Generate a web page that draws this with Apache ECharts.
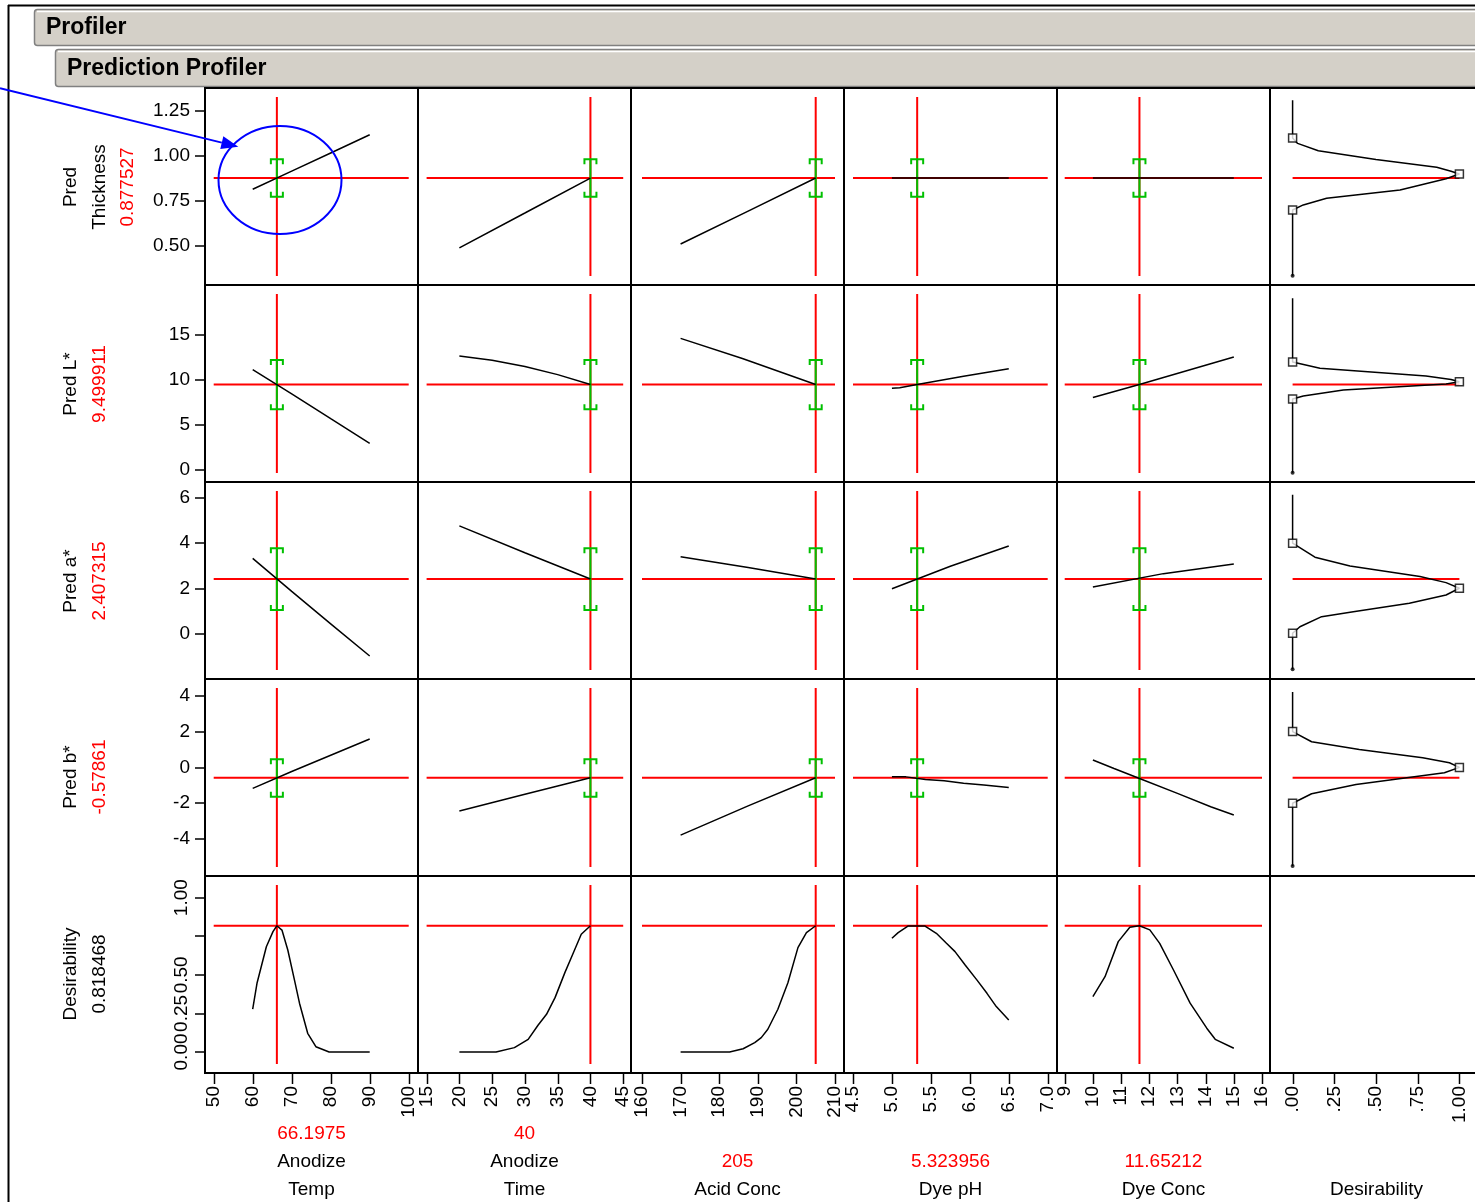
<!DOCTYPE html>
<html>
<head>
<meta charset="utf-8">
<title>Prediction Profiler</title>
<script src="https://cdn.jsdelivr.net/npm/echarts@6/dist/echarts.min.js"></script>
<style>
  html, body { margin: 0; padding: 0; background: #fff; }
  #profiler { width: 1475px; height: 1202px; }
</style>
</head>
<body>
<div id="profiler"></div>
<script>
// factors (columns)
const factorNames = [['Anodize', 'Temp'], ['Anodize', 'Time'], ['Acid Conc'], ['Dye pH'], ['Dye Conc'], ['Desirability']];
const factorValues = [66.1975, 40, 205, 5.323956, 11.65212];
const factorValueLabels = ['66.1975', '40', '205', '5.323956', '11.65212'];
const factorTicks = [
  [50, 60, 70, 80, 90, 100],
  [15, 20, 25, 30, 35, 40, 45],
  [160, 170, 180, 190, 200, 210],
  [4.5, 5, 5.5, 6, 6.5, 7],
  [9, 10, 11, 12, 13, 14, 15, 16],
  [0, 0.25, 0.5, 0.75, 1]
];

// responses (rows)
const responseNames = [['Pred', 'Thickness'], ['Pred L*'], ['Pred a*'], ['Pred b*'], ['Desirability']];
const responseValues = [0.877527, 9.499911, 2.407315, -0.57861, 0.818468];
const responseValueLabels = ['0.877527', '9.499911', '2.407315', '-0.57861', '0.818468'];
const responseTicks = [[0.5, 0.75, 1, 1.25], [0, 5, 10, 15], [0, 2, 4, 6], [-4, -2, 0, 2, 4], [0, 0.25, 0.5, 0.75, 1]];
const desirTickLabels = [0, 0.25, 0.5, 1];

// confidence intervals at the current setting
const ciLow = [0.774, 6.74, 1.04, -1.64];
const ciHigh = [0.982, 12.22, 3.78, 0.45];

// profile traces, one list per factor column
const profThickness = [
  [[60, 0.815], [70, 0.916], [80, 1.017], [90, 1.118]],
  [[20, 0.489], [30, 0.683], [40, 0.8775]],
  [[170, 0.511], [187.5, 0.694], [205, 0.8775]],
  [[5, 0.8775], [6.5, 0.8775]],
  [[10, 0.8775], [15, 0.8775]]
];
const profL = [
  [[60, 11.15], [70, 8.45], [80, 5.7], [90, 2.96]],
  [[20, 12.67], [25, 12.2], [30, 11.5], [35, 10.6], [40, 9.5]],
  [[170, 14.63], [186, 12.4], [205, 9.5]],
  [[5, 9.08], [5.1, 9.15], [5.324, 9.5], [5.92, 10.41], [6.5, 11.26]],
  [[10, 8.05], [11.65, 9.5], [15, 12.56]]
];
const profA = [
  [[60, 3.33], [70, 1.86], [80, 0.42], [90, -1.01]],
  [[20, 4.77], [30, 3.58], [40, 2.41]],
  [[170, 3.4], [187.5, 2.92], [205, 2.41]],
  [[5, 1.98], [5.75, 2.98], [6.5, 3.88]],
  [[10, 2.06], [12.5, 2.65], [15, 3.08]]
];
const profB = [
  [[60, -1.17], [70, -0.23], [80, 0.68], [90, 1.58]],
  [[20, -2.44], [30, -1.5], [40, -0.58]],
  [[170, -3.78], [187.5, -2.15], [205, -0.58]],
  [[5, -0.53], [5.18, -0.53], [5.43, -0.67], [5.67, -0.75], [5.92, -0.89], [6.18, -0.99], [6.5, -1.12]],
  [[10, 0.41], [10.75, -0.06], [11.7, -0.65], [13, -1.45], [14.18, -2.2], [15, -2.66]]
];
const profDesir = [
  [[60, 0.277], [61.1, 0.445], [63.5, 0.682], [65.2, 0.78], [66.2, 0.818], [67.5, 0.79], [69, 0.661],
   [70.7, 0.467], [72, 0.316], [74.1, 0.121], [76.2, 0.034], [79.6, 0], [90, 0]],
  [[20, 0], [25.6, 0], [28.4, 0.028], [30.5, 0.082], [32, 0.173], [33.3, 0.244], [34.6, 0.352],
   [36.1, 0.514], [37.3, 0.633], [38.6, 0.763], [40, 0.818]],
  [[170, 0], [182.7, 0], [186.2, 0.021], [189.2, 0.06], [190.9, 0.093], [192.6, 0.147], [195.2, 0.277],
   [197.8, 0.449], [200.4, 0.676], [202.6, 0.773], [205, 0.818]],
  [[5, 0.737], [5.08, 0.773], [5.21, 0.817], [5.42, 0.817], [5.57, 0.769], [5.7, 0.704], [5.81, 0.65],
   [5.94, 0.564], [6.09, 0.467], [6.22, 0.38], [6.34, 0.294], [6.5, 0.207]],
  [[10, 0.358], [10.43, 0.488], [10.9, 0.715], [11.31, 0.808], [11.65, 0.818], [12.02, 0.791], [12.37, 0.704],
   [12.86, 0.531], [13.45, 0.316], [14.04, 0.154], [14.34, 0.082], [15, 0.024]]
];
const profiles = [profThickness, profL, profA, profB, profDesir];

// desirability functions (desirability, response)
const desirThickness = [[0, 1.31], [0, 1.1], [0.03, 1.07], [0.154, 1.029], [0.5, 0.98], [0.864, 0.937], [0.95, 0.915], [1, 0.9],
  [0.92, 0.874], [0.644, 0.811], [0.204, 0.765], [0.064, 0.728], [0, 0.7], [0, 0.335]];
const desirL = [[0, 19.1], [0, 12], [0.164, 11.3], [0.8, 10.44], [0.95, 10.05], [1, 9.8],
  [0.92, 9.56], [0.304, 8.89], [0.064, 8.22], [0, 7.9], [0, -0.3]];
const desirA = [[0, 6.15], [0, 4], [0.134, 3.38], [0.344, 2.99], [0.764, 2.52], [0.92, 2.25], [1, 2],
  [0.92, 1.7], [0.7, 1.33], [0.364, 0.96], [0.174, 0.74], [0.044, 0.29], [0, 0], [0, -1.6]];
const desirB = [[0, 4.2], [0, 2], [0.114, 1.43], [0.4, 1.0], [0.78, 0.54], [0.94, 0.26], [1, 0],
  [0.91, -0.3], [0.38, -0.95], [0.114, -1.47], [0, -2], [0, -5.5]];
const desirCurves = [desirThickness, desirL, desirA, desirB];
const desirCtrl = [[[0, 1.1], [1, 0.9], [0, 0.7]], [[0, 12], [1, 9.8], [0, 7.9]], [[0, 4], [1, 2], [0, 0]], [[0, 2], [1, 0], [0, -2]]];
const desirEnd = [[[0, 0.335]], [[0, -0.3]], [[0, -1.6]], [[0, -5.5]]];

// layout
const FONT = '"Liberation Sans", Arial, sans-serif';
const colLeft = [205, 418, 631, 844, 1057, 1270];
const rowTop = [88, 285, 482, 679, 876];
const plotX = [[213.7, 408.7], [426.6, 623.2], [642, 835], [853, 1047.7], [1064.7, 1262], [1292.6, 1459.4]];
const yRange = [[0.333, 1.328], [-0.33, 19.56], [-1.63, 6.32], [-5.56, 4.43], [-0.078, 1.082]];
const RED = '#ff0000', GREEN = '#00c000';
const AXIS_Y = 1073;

const fmtX = (c) => (v) => {
  if (c === 3) return v.toFixed(1);
  if (c === 5) return v === 1 ? '1.00' : v.toFixed(2).replace(/^0/, '');
  return String(v);
};
const fmtY = (r) => (v) => (r === 0 || r === 4) ? v.toFixed(2) : String(v);

function renderCI(params, api) {
  const x = api.value(0);
  const top = api.coord([x, api.value(2)]);
  const bot = api.coord([x, api.value(1)]);
  const w = 6, h = 5;
  const st = { stroke: GREEN, lineWidth: 2, fill: null };
  return {
    type: 'group',
    children: [
      { type: 'line', shape: { x1: top[0], y1: top[1], x2: bot[0], y2: bot[1] }, style: st },
      { type: 'polyline', shape: { points: [[top[0] - w, top[1] + h], [top[0] - w, top[1]], [top[0] + w, top[1]], [top[0] + w, top[1] + h]] }, style: st },
      { type: 'polyline', shape: { points: [[bot[0] - w, bot[1] - h], [bot[0] - w, bot[1]], [bot[0] + w, bot[1]], [bot[0] + w, bot[1] - h]] }, style: st }
    ]
  };
}

const lineSeries = (gi, data, color, width, z) => ({
  type: 'line', xAxisIndex: gi, yAxisIndex: gi, data: data,
  symbol: 'none', showSymbol: false, silent: true, clip: false, z: z,
  lineStyle: { color: color, width: width }
});

let grids = [], xAxes = [], yAxes = [], series = [];

for (let r = 0; r < 5; r++) {
  for (let c = 0; c < 6; c++) {
    let gi = grids.length;
    let ticks = factorTicks[c];
    let xmin = ticks[0], xmax = ticks[ticks.length - 1];
    grids.push({
      left: plotX[c][0], width: plotX[c][1] - plotX[c][0],
      top: rowTop[r] + 9, height: 179,
      containLabel: false, outerBoundsMode: 'none'
    });
    xAxes.push({ gridIndex: gi, type: 'value', min: xmin, max: xmax, show: false, axisLine: { onZero: false } });
    yAxes.push({
      gridIndex: gi, type: 'value', min: yRange[r][0], max: yRange[r][1],
      show: c === 0, offset: plotX[0][0] - 205,
      axisLine: { show: false, onZero: false }, splitLine: { show: false },
      axisTick: { show: true, length: 10, customValues: responseTicks[r], lineStyle: { color: '#000', width: 1.5 } },
      axisLabel: {
        customValues: r === 4 ? desirTickLabels : responseTicks[r],
        rotate: r === 4 ? 90 : 0, margin: r === 4 ? 14 : 15,
        color: '#000', fontSize: 19, fontFamily: FONT, formatter: fmtY(r)
      }
    });

    let yc = responseValues[r];
    if (c < 5) {
      let xc = factorValues[c];
      series.push(lineSeries(gi, [[xc, yRange[r][0]], [xc, yRange[r][1]]], RED, 2, 2));
      series.push(lineSeries(gi, [[xmin, yc], [xmax, yc]], RED, 2, 2));
      if (r < 4) {
        series.push({
          type: 'custom', xAxisIndex: gi, yAxisIndex: gi, silent: true, z: 3,
          renderItem: renderCI, encode: { x: 0, y: [1, 2] },
          data: [[xc, ciLow[r], ciHigh[r]]]
        });
      }
      series.push(lineSeries(gi, profiles[r][c], '#000', 1.5, 4));
    } else if (r < 4) {
      series.push(lineSeries(gi, [[0, yc], [1, yc]], RED, 2, 2));
      series.push(lineSeries(gi, desirCurves[r], '#000', 1.5, 4));
      series.push({
        type: 'scatter', xAxisIndex: gi, yAxisIndex: gi, data: desirCtrl[r], silent: true, z: 5,
        symbol: 'rect', symbolSize: 8,
        itemStyle: { color: '#fff', borderColor: '#000', borderWidth: 1.5 }
      });
      series.push({
        type: 'scatter', xAxisIndex: gi, yAxisIndex: gi, data: desirEnd[r], silent: true, z: 5,
        symbol: 'circle', symbolSize: 4, itemStyle: { color: '#000' }
      });
    }
  }
}

// strip grids under the bottom row that carry the rotated factor tick labels
for (let c = 0; c < 6; c++) {
  let gi = grids.length;
  let ticks = factorTicks[c];
  grids.push({
    left: plotX[c][0], width: plotX[c][1] - plotX[c][0],
    top: 1073, height: 10, containLabel: false, outerBoundsMode: 'none'
  });
  xAxes.push({
    gridIndex: gi, type: 'value', min: ticks[0], max: ticks[ticks.length - 1], position: 'bottom',
    axisLine: { show: false, onZero: false }, splitLine: { show: false }, axisTick: { show: false },
    axisLabel: { customValues: ticks, rotate: 90, margin: 3, color: '#000', fontSize: 19, fontFamily: FONT, formatter: fmtX(c) }
  });
  yAxes.push({ gridIndex: gi, type: 'value', min: 0, max: 1, show: false, axisLine: { onZero: false } });
}

// frame, header bars, cell borders, texts
let graphics = [];
const lineEl = (x1, y1, x2, y2, color, w) => ({
  type: 'line', shape: { x1: x1, y1: y1, x2: x2, y2: y2 }, style: { stroke: color, lineWidth: w }, silent: true
});
const textEl = (x, y, text, color, opts) => Object.assign({
  type: 'text', x: x, y: y, silent: true,
  style: {
    text: text, fill: color, font: '19px ' + FONT,
    textAlign: 'center', textVerticalAlign: 'middle', align: 'center', verticalAlign: 'middle'
  }
}, opts || {});

graphics.push(lineEl(8.5, 5, 8.5, 1202, '#000', 2));
graphics.push(lineEl(8, 5.5, 1475, 5.5, '#000', 2));

// header bars
graphics.push({ type: 'rect', shape: { x: 34.5, y: 9.5, width: 1460, height: 36, r: 3 }, style: { fill: '#d4d0c8', stroke: '#808080', lineWidth: 1.5 }, silent: true });
graphics.push(lineEl(37, 11.5, 1475, 11.5, '#ffffff', 1.5));
graphics.push({ type: 'rect', shape: { x: 55.5, y: 49.5, width: 1440, height: 37, r: 3 }, style: { fill: '#d4d0c8', stroke: '#808080', lineWidth: 1.5 }, silent: true });
graphics.push(lineEl(58, 51.5, 1475, 51.5, '#ffffff', 1.5));
graphics.push({ type: 'text', x: 46, y: 28, silent: true, style: { text: 'Profiler', fill: '#000', font: 'bold 23px ' + FONT, textVerticalAlign: 'middle', verticalAlign: 'middle' } });
graphics.push({ type: 'text', x: 67, y: 68.5, silent: true, style: { text: 'Prediction Profiler', fill: '#000', font: 'bold 23px ' + FONT, textVerticalAlign: 'middle', verticalAlign: 'middle' } });

// cell borders
rowTop.concat([AXIS_Y]).forEach(y => graphics.push(lineEl(204, y, 1475, y, '#000', 2)));
colLeft.forEach(x => graphics.push(lineEl(x, 87, x, 1074, '#000', 2)));

// x tick marks hanging under the bottom border (same linear layout as the factor axes)
for (let c = 0; c < 6; c++) {
  let ticks = factorTicks[c];
  let span = ticks[ticks.length - 1] - ticks[0];
  ticks.forEach(t => {
    let x = Math.round(plotX[c][0] + (t - ticks[0]) / span * (plotX[c][1] - plotX[c][0])) + 0.5;
    graphics.push(lineEl(x, AXIS_Y + 1, x, AXIS_Y + 11, '#000', 1.5));
  });
}

// response labels (rotated)
const rowCenterY = [187, 384, 581, 777, 974];
const rowLineX = [70.7, 99.3, 127.7];
for (let r = 0; r < 5; r++) {
  let lines = responseNames[r].map(t => [t, '#000']);
  lines.push([responseValueLabels[r], r === 4 ? '#000' : RED]);
  lines.forEach((ln, i) => {
    graphics.push(textEl(rowLineX[i], rowCenterY[r], ln[0], ln[1], { rotation: Math.PI / 2 }));
  });
}

// factor labels under the axes
for (let c = 0; c < 6; c++) {
  let lines = factorNames[c].map(t => [t, '#000']);
  if (c < 5) lines.unshift([factorValueLabels[c], RED]);
  let cx = colLeft[c] + 106.5;
  lines.forEach((ln, i) => {
    let y = 1190 - (lines.length - 1 - i) * 28;
    graphics.push(textEl(cx, y, ln[0], ln[1]));
  });
}

// blue annotation: arrow and ellipse
const tip = [238.3, 146.7], tail = [0, 88.3];
const ang = Math.atan2(tip[1] - tail[1], tip[0] - tail[0]);
const aLen = 17, aHalf = 6.5;
const base = [tip[0] - aLen * Math.cos(ang), tip[1] - aLen * Math.sin(ang)];
graphics.push(lineEl(tail[0], tail[1], base[0], base[1], '#0000ff', 2));
graphics.push({
  type: 'polygon', silent: true, z: 10,
  shape: { points: [tip,
    [base[0] - aHalf * Math.sin(ang), base[1] + aHalf * Math.cos(ang)],
    [base[0] + aHalf * Math.sin(ang), base[1] - aHalf * Math.cos(ang)]] },
  style: { fill: '#0000ff' }
});
graphics.push({ type: 'ellipse', silent: true, z: 10, shape: { cx: 280, cy: 180, rx: 61.5, ry: 54 }, style: { fill: null, stroke: '#0000ff', lineWidth: 2 } });

let chart = echarts.init(document.getElementById('profiler'));
chart.setOption({
  animation: false,
  backgroundColor: '#fff',
  grid: grids,
  xAxis: xAxes,
  yAxis: yAxes,
  series: series,
  graphic: { elements: graphics }
});
</script>
</body>
</html>
